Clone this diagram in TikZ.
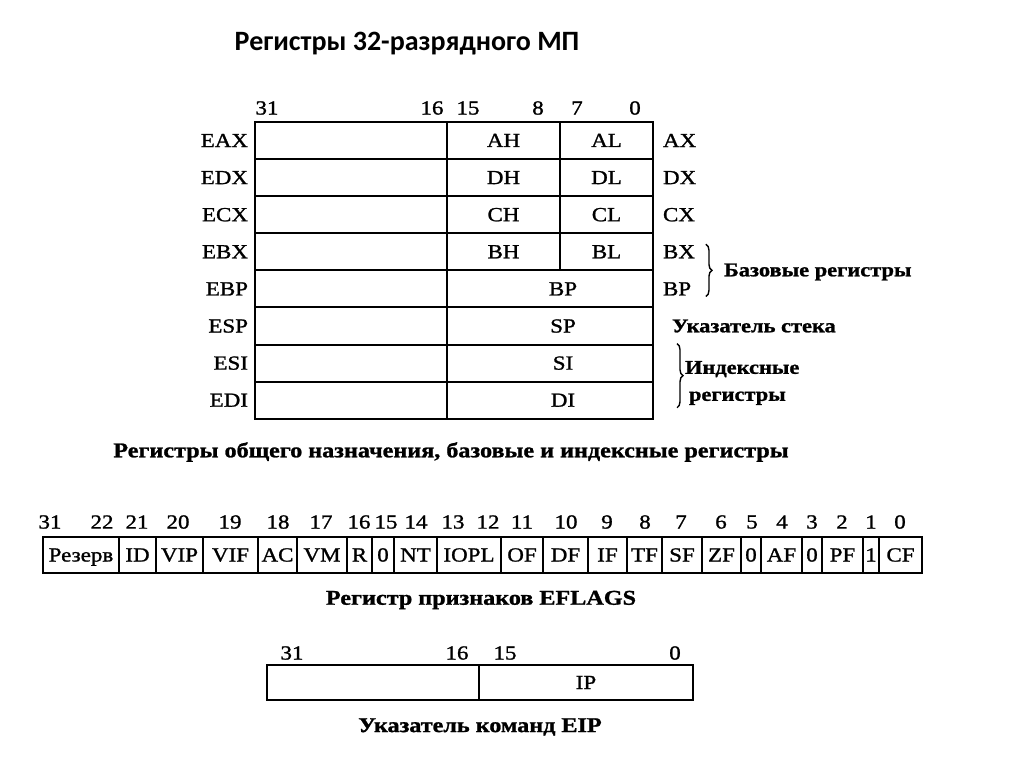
\documentclass[tikz,border=0pt]{standalone}
\usepackage{fontspec}
\setmainfont[FakeStretch=1.15,FakeBold=1.2]{Liberation Serif}
\newfontfamily\headfont{Carlito}
\usetikzlibrary{positioning}
\usetikzlibrary{decorations.pathreplacing}

\begin{document}
\begin{tikzpicture}[x=1pt,y=-1pt,line width=2pt,
  font=\fontsize{20}{24}\selectfont,
  cell/.style={draw,rectangle,inner sep=0pt,minimum height=37.1pt,text height=13pt,text depth=0pt},
  flag/.style={draw,rectangle,inner sep=0pt,minimum height=36pt,text height=13pt,text depth=0pt},
  bit/.style={inner sep=0pt},
  regname/.style={inner sep=0pt},
  caption/.style={inner sep=0pt,font=\fontsize{21}{27}\selectfont\bfseries},
  side/.style={caption,anchor=west,font=\fontsize{19.5}{27}\selectfont\bfseries},
  brace/.style={decorate,decoration={brace,amplitude=6pt},line width=1.4pt}]
  \useasboundingbox[fill=white] (0,0) rectangle (1024,767);
  \node[font=\headfont\fontsize{28}{32}\selectfont\bfseries] (title) at (407,44) {Регистры 32-разрядного МП};
  % general purpose registers
  \foreach \e/\h/\l/\x [count=\i from 0] in {EAX/AH/AL/AX,EDX/DH/DL/DX,ECX/CH/CL/CX,EBX/BH/BL/BX}{
    \node[cell,minimum width=192pt] (hi\e) at (351,140.5+37.1*\i) {};
    \node[cell,minimum width=113pt] (h\e) at (503.5,140.5+37.1*\i) {\h};
    \node[cell,minimum width=93pt] (l\e) at (606.5,140.5+37.1*\i) {\l};
    \node[regname,left=5pt of hi\e] (n\e) {\e};
    \node[regname,right=8pt of l\e] (x\e) {\x};
  }
  \foreach \e/\w [count=\i from 4] in {EBP/BP,ESP/SP,ESI/SI,EDI/DI}{
    \node[cell,minimum width=192pt] (hi\e) at (351,140.5+37.1*\i) {};
    \node[cell,minimum width=206pt,label={[xshift=13pt]center:\w}] (lo\e) at (550,140.5+37.1*\i) {};
    \node[regname,left=5pt of hi\e] (n\e) {\e};
  }
  \node[regname,right=8pt of loEBP] (xEBP) {BP};
  \foreach \x/\b in {267/31,432/16,468/15,538/8,577/7,635/0}
    \node[bit] (t\b) at (\x,108) {\b};
  \draw[brace] ([xshift=10pt]xEBX.north east) -- ([xshift=10pt]xEBX.north east |- xEBP.south);
  \node[side] (base) at (723,272) {Базовые регистры};
  \node[side] (stack) at (671,326) {Указатель стека};
  \draw[brace] ([xshift=23pt]loESI.north east) -- ([xshift=23pt,yshift=12pt]loEDI.south east);
  \node[side,align=left] (index) at (684,383) {Индексные\\\hspace*{4pt}регистры};
  \node[caption] (cap1) at (451,452) {Регистры общего назначения, базовые и индексные регистры};
  % flags
  \foreach \a/\b/\t [count=\i] in {43/119/Резерв,119/156/ID,156/203/VIP,203/258/VIF,258/297/AC,
    297/347/VM,347/372/R,372/394/0,394/437/NT,437/501/IOPL,501/543/OF,543/588/DF,588/627/IF,
    627/662/TF,662/702/SF,702/741/ZF,741/761/0,761/802/AF,802/822/0,822/863/PF,863/879/1,879/922/CF}
    \node[flag,minimum width=\b-\a] (f\i) at ({(\a+\b)/2},555) {\t};
  \foreach \x/\b in {50/31,102/22,137/21,178/20,230/19,278/18,321/17,359/16,386/15,416/14,453/13,
    488/12,522/11,566/10,607/9,645/8,681/7,721/6,752/5,782/4,812/3,842/2,871/1,900/0}
    \node[bit] (fb\b) at (\x,522) {\b};
  \node[caption] (cap2) at (481,600) {Регистр признаков EFLAGS};
  % instruction pointer
  \node[cell,minimum width=212pt,minimum height=35pt] (ipHi) at (373,682.5) {};
  \node[cell,minimum width=214pt,minimum height=35pt] (ipLo) at (586,682.5) {IP};
  \foreach \x/\b in {292/31,457/16,505/15,675/0}
    \node[bit] (ib\b) at (\x,653) {\b};
  \node[caption] (cap3) at (480,727) {Указатель команд EIP};
\end{tikzpicture}
\end{document}
